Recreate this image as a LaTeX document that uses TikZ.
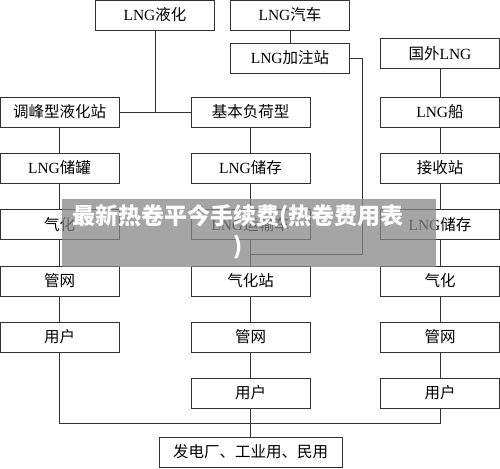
\documentclass[tikz,border=0pt]{standalone}
\usepackage{fontspec}
\setmainfont{Liberation Serif}
\newfontfamily\cjk{Noto Sans CJK SC}
\usepackage{tikz}
\usetikzlibrary{positioning}
\usepackage{xcolor}

\begin{document}
\begin{tikzpicture}[x=1pt, y=-1pt, line width=0.8pt, draw=black!80,
    box/.style={draw=black!80, minimum width=119pt, minimum height=30pt, inner sep=0pt, font=\fontsize{15.5}{17}\selectfont}]
        \useasboundingbox (0,0) rectangle (500,468);

        % Top row
        \node[box] (liq) at (155, 15) {LNG{\cjk 液化}};
        \node[box] (car) at (290, 15) {LNG{\cjk 汽车}};
        \node[box] (fill) at (290, 58) {LNG{\cjk 加注站}};
        \node[box] (abroad) at (440, 53.5) {{\cjk 国外}LNG};

        % Left column
        \node[box] (peak) at (59.5, 112) {\cjk 调峰型液化站};
        \node[box] (tank) at (59.5, 168) {LNG{\cjk 储罐}};
        \node[box] (gasL) at (59.5, 224.5) {\cjk 气化};
        \node[box] (netL) at (59.5, 281) {\cjk 管网};
        \node[box] (userL) at (59.5, 337) {\cjk 用户};

        % Centre column
        \node[box] (base) at (250.5, 112) {\cjk 基本负荷型};
        \node[box] (store) at (250.5, 168) {LNG{\cjk 储存}};
        \node[box] (truck) at (250.5, 224.5) {LNG{\cjk 运输车}};
        \node[box] (station) at (250.5, 281) {\cjk 气化站};
        \node[box] (netC) at (250.5, 337) {\cjk 管网};
        \node[box] (userC) at (250.5, 393) {\cjk 用户};

        % Right column
        \node[box] (ship) at (440, 112) {LNG{\cjk 船}};
        \node[box] (recv) at (440, 168) {\cjk 接收站};
        \node[box] (storeR) at (440, 224.5) {LNG{\cjk 储存}};
        \node[box] (gasR) at (440, 281) {\cjk 气化};
        \node[box] (netR) at (440, 337) {\cjk 管网};
        \node[box] (userR) at (440, 393) {\cjk 用户};

        % Bottom
        \node[box, minimum width=183pt] (plant) at (250.5, 452) {\cjk 发电厂、工业用、民用};

        % Helper points
        \coordinate (split) at (155, 112);
        \coordinate (bend) at (362, 58);
        \coordinate (join) at (250.5, 254);
        \coordinate (busL) at (59.5, 423);
        \coordinate (busR) at (440, 423);

        % Draw Edges
        \draw (liq) -- (split);
        \draw (peak) -- (base);
        \draw (car) -- (fill);
        \draw (fill.east) -- (bend) |- (join);
        \draw (peak) -- (tank) -- (gasL) -- (netL) -- (userL);
        \draw (base) -- (store) -- (truck) -- (station) -- (netC) -- (userC);
        \draw (abroad) -- (ship) -- (recv) -- (storeR) -- (gasR) -- (netR) -- (userR);
        \draw (userL) -- (busL) -- (busR) -- (userR);
        \draw (userC) -- (plant);

        % Overlay banner
        \fill[black!47, opacity=0.75] (62,199) rectangle (436,267);
        \node[text=white, align=center, font=\cjk\bfseries\fontsize{23}{30}\selectfont] (banner) at (238, 232) {最新热卷平今手续费(热卷费用表\\)};
    \end{tikzpicture}
\end{document}
